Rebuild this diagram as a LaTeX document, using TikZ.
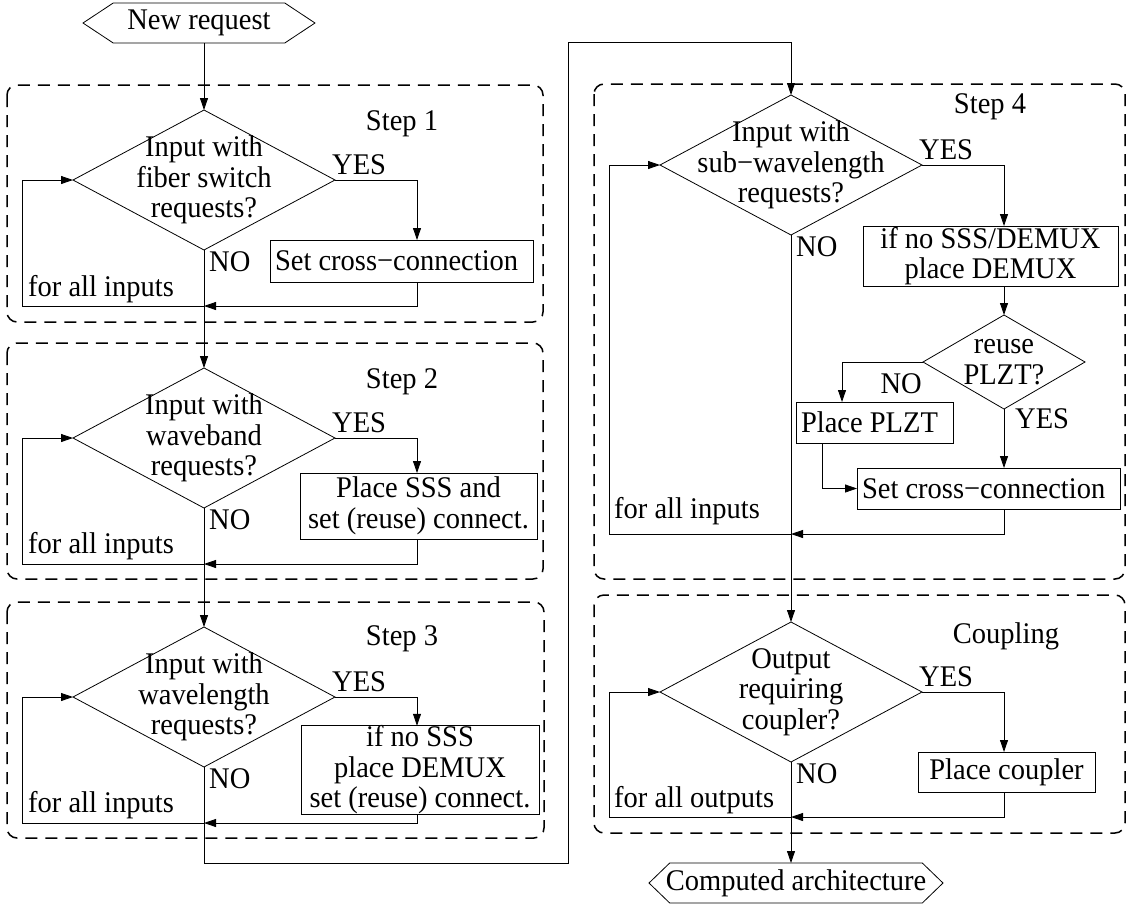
\documentclass[tikz,border=0pt]{standalone}
\usepackage{fontspec}
\setmainfont{Liberation Serif}[FakeStretch=0.95]
\usetikzlibrary{shapes.geometric,shapes.symbols,arrows.meta,calc}
\tikzset{
  base/.style={font=\fontsize{30pt}{30.5pt}\selectfont},
  dia/.style={draw, diamond, inner sep=0pt, outer sep=0pt, line width=0.8pt},
  procbox/.style={draw, rectangle, inner sep=0pt, outer sep=0pt, align=center, line width=0.9pt, base},
  leftbox/.style={draw, rectangle, inner xsep=5pt, inner ysep=0pt, outer sep=0pt, line width=0.9pt, base},
  term/.style={draw, signal, signal to=west and east, inner sep=0pt, outer sep=0pt, minimum height=40pt, line width=0.8pt},
  txt/.style={base, align=center, inner sep=0pt},
  lbl/.style={base, inner sep=0pt},
  arr/.style={-{Triangle[length=12pt,width=8pt]}, line width=0.8pt},
  grp/.style={draw, dash pattern=on 12pt off 8pt, line width=1.5pt, rounded corners=10pt},
}
\begin{document}
\begin{tikzpicture}[x=1pt,y=-1pt]
\useasboundingbox (0,0) rectangle (1128,906);

% dashed groups
\draw[grp] (7,85) rectangle (543,322);
\draw[grp] (7,343) rectangle (543,579);
\draw[grp] (7,602) rectangle (544,838);
\draw[grp] (594,84) rectangle (1125,579);
\draw[grp] (594,595) rectangle (1125,833);

% terminals
\node[term, signal pointer angle=67, minimum width=232pt] (start) at (199,23) {};
\node[txt] (tstart) at (start) {New request};
\node[term, signal pointer angle=88, minimum width=294pt] (end) at (796,883) {};
\node[txt] (tend) at (end) {Computed architecture};

% decisions
\node[dia, minimum width=262pt, minimum height=140pt] (d1) at (204,180) {};
\node[txt] (t1) at (d1) {Input with\\fiber switch\\requests?};
\node[dia, minimum width=262pt, minimum height=140pt] (d2) at (204,438) {};
\node[txt] (t2) at (d2) {Input with\\waveband\\requests?};
\node[dia, minimum width=262pt, minimum height=140pt] (d3) at (204,697) {};
\node[txt] (t3) at (d3) {Input with\\wavelength\\requests?};
\node[dia, minimum width=262pt, minimum height=140pt] (d4) at (791,165) {};
\node[txt] (t4) at (d4) {Input with\\sub−wavelength\\requests?};
\node[dia, minimum width=262pt, minimum height=140pt] (d5) at (791,692) {};
\node[txt] (t5) at (d5) {Output\\requiring\\coupler?};
\node[dia, minimum width=162pt, minimum height=94pt] (r) at (1004,362) {};
\node[txt] (tr) at (r) {reuse\\PLZT?};

% process boxes
\node[leftbox, minimum height=42pt] (b1) at (401.5,261) {\makebox[253pt][l]{Set cross−connection}};
\node[procbox, minimum width=237pt, minimum height=66pt] (b2) at (418.5,506) {Place SSS and\\set (reuse) connect.};
\node[procbox, minimum width=238pt, minimum height=86pt] (b3) at (420,770) {if no SSS\\place DEMUX\\set (reuse) connect.};
\node[procbox, minimum width=255pt, minimum height=60pt] (b4a) at (990.5,256) {if no SSS/DEMUX\\place DEMUX};
\node[leftbox, minimum height=41pt] (plzt) at (874.5,422.5) {\makebox[147pt][l]{Place PLZT}};
\node[leftbox, minimum height=41pt] (set) at (988.5,488.5) {\makebox[253pt][l]{Set cross−connection}};
\node[procbox, minimum width=177pt, minimum height=40pt] (bc) at (1006.5,772) {Place coupler};

% group titles
\node[lbl, anchor=base] (s1) at (402,130) {Step 1};
\node[lbl, anchor=base] (s2) at (402,388) {Step 2};
\node[lbl, anchor=base] (s3) at (402,645) {Step 3};
\node[lbl, anchor=base] (s4) at (990,113) {Step 4};
\node[lbl, anchor=base] (s5) at (1006,643) {Coupling};

% YES / NO labels
\foreach \d in {d1,d2,d3,d4,d5}{
  \node[lbl, anchor=base west] (y\d) at ($(\d.east)+(-3,-6)$) {YES};
  \node[lbl, anchor=base west] (n\d) at ($(\d.south)+(5,21)$) {NO};
}
\node[lbl, anchor=base east] (nr) at ($(r.west)+(-1,31)$) {NO};
\node[lbl, anchor=base west] (yr) at ($(r.south)+(11,19)$) {YES};

% helper coordinates
\coordinate (k1) at (417,0);
\coordinate (k4) at (1004,0);
\coordinate (k5) at (842,0);
\coordinate (k6) at (822,0);
\coordinate (m1) at (204,306); \coordinate (l1) at (22,306);
\coordinate (m2) at (204,564); \coordinate (l2) at (22,564);
\coordinate (m3) at (204,823); \coordinate (l3) at (22,823);
\coordinate (m4) at (791,534); \coordinate (l4) at (609,534);
\coordinate (m5) at (791,817); \coordinate (l5) at (609,817);
\coordinate (p1) at (204,863); \coordinate (p2) at (568,863);
\coordinate (p3) at (568,42);  \coordinate (p4) at (791,42);

% loop labels
\node[lbl, anchor=base west] (f1) at ($(l1)+(6,-10)$) {for all inputs};
\node[lbl, anchor=base west] (f2) at ($(l2)+(6,-11)$) {for all inputs};
\node[lbl, anchor=base west] (f3) at ($(l3)+(6,-11)$) {for all inputs};
\node[lbl, anchor=base west] (f4) at ($(l4)+(5,-16)$) {for all inputs};
\node[lbl, anchor=base west] (f5) at ($(l5)+(5,-10)$) {for all outputs};

% main flow
\draw[arr] (d1.north |- start.south) -- (d1.north);
\draw[arr] (d1.south) -- (d2.north);
\draw[arr] (d2.south) -- (d3.north);
\draw[arr] (d3.south) -- (p1) -- (p2) -- (p3) -- (p4) -- (d4.north);
\draw[arr] (d4.south) -- (d5.north);
\draw[arr] (d5.south) -- (d5.south |- end.north);

% step 1
\draw[arr] (d1.east) -| (b1.north -| k1);
\draw[arr] (b1.south -| k1) |- (m1);
\draw[arr] (m1) -- (l1) |- (d1.west);
% step 2
\draw[arr] (d2.east) -| (b2.north -| k1);
\draw[arr] (b2.south -| k1) |- (m2);
\draw[arr] (m2) -- (l2) |- (d2.west);
% step 3
\draw[arr] (d3.east) -| (b3.north -| k1);
\draw[arr] (b3.south -| k1) |- (m3);
\draw[arr] (m3) -- (l3) |- (d3.west);
% step 4
\draw[arr] (d4.east) -| (b4a.north -| k4);
\draw[arr] (b4a.south -| k4) -- (r.north);
\draw[arr] (r.west) -| (plzt.north -| k5);
\draw[arr] (plzt.south -| k6) |- (set.west);
\draw[arr] (r.south) -- (r.south |- set.north);
\draw[arr] (set.south -| k4) |- (m4);
\draw[arr] (m4) -- (l4) |- (d4.west);
% coupling
\draw[arr] (d5.east) -| (bc.north -| k4);
\draw[arr] (bc.south -| k4) |- (m5);
\draw[arr] (m5) -- (l5) |- (d5.west);
\end{tikzpicture}
\end{document}
